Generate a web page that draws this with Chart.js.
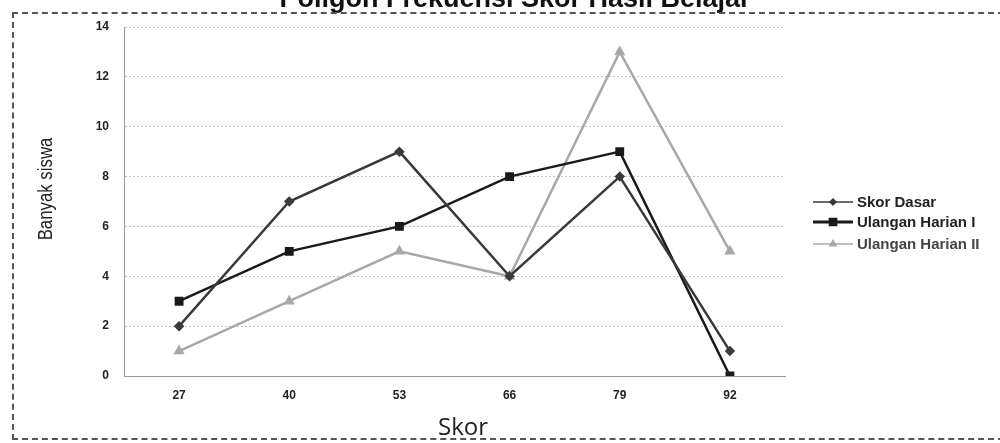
<!DOCTYPE html>
<html>
<head>
<meta charset="utf-8">
<script src="https://cdn.jsdelivr.net/npm/chart.js@4"></script>
<style>
  html, body { margin: 0; padding: 0; background: #fff; overflow: hidden; }
  #wrap { position: relative; width: 1000px; height: 443px; }
  #frame { position: absolute; left: 12px; top: 12px; width: 1000px; height: 424px;
           border-top: 2px dashed #555; border-left: 2px dashed #555; border-bottom: 2px dashed #555; pointer-events: none; }
  canvas { position: absolute; left: 0; top: 0; }
</style>
</head>
<body>
<div id="wrap">
  <canvas id="c" width="1000" height="443"></canvas>
  <div id="frame"></div>
</div>
<script>
const titleText = "Poligon Frekuensi Skor Hasil Belajar";
const xTitle = "Skor";
const yTitle = "Banyak siswa";
const categories = ["27", "40", "53", "66", "79", "92"];
const skorDasar = [2, 7, 9, 4, 8, 1];
const ulangan1 = [3, 5, 6, 8, 9, 0];
const ulangan2 = [1, 3, 5, 4, 13, 5];
const seriesNames = ["Skor Dasar", "Ulangan Harian I", "Ulangan Harian II"];
const yTicks = [0, 2, 4, 6, 8, 10, 12, 14];

const styles = [
  { color: "#3a3a3a", point: "rectRot", radius: 3.5, width: 2.5, legendWidth: 1.5 },
  { color: "#1a1a1a", point: "rect", radius: 4.5, width: 2.5, legendWidth: 3 },
  { color: "#a8a8a8", point: "triangle", radius: 4, width: 2.5, legendWidth: 1.5 }
];
const values = [skorDasar, ulangan1, ulangan2];

const extraPlugin = {
  id: "extra",
  afterDraw(chart) {
    const ctx = chart.ctx;
    ctx.save();
    // title (partially cut at top like the scan)
    ctx.fillStyle = "#111";
    ctx.font = "bold 27px 'Liberation Sans', Arial, sans-serif";
    ctx.textAlign = "center";
    ctx.textBaseline = "alphabetic";
    ctx.fillText(titleText, 515, 7);
    // x axis title
    ctx.fillStyle = "#222";
    ctx.font = "24px 'Open Sans', 'Noto Sans', sans-serif";
    ctx.fillText(xTitle, 463, 435);
    // y axis title (condensed)
    ctx.save();
    ctx.translate(52, 189);
    ctx.rotate(-Math.PI / 2);
    ctx.scale(0.84, 1);
    ctx.font = "20px 'Liberation Sans', Arial, sans-serif";
    ctx.textBaseline = "alphabetic";
    ctx.fillText(yTitle, 0, 0);
    ctx.restore();
    // legend
    const ys = [202, 222, 244];
    ctx.textAlign = "left";
    ctx.textBaseline = "middle";
    for (let i = 0; i < seriesNames.length; i++) {
      const st = styles[i];
      ctx.strokeStyle = st.color;
      ctx.lineWidth = st.legendWidth;
      ctx.beginPath();
      ctx.moveTo(813, ys[i]);
      ctx.lineTo(853, ys[i]);
      ctx.stroke();
      Chart.helpers.drawPoint(ctx, { pointStyle: st.point, radius: st.radius - 0.5, borderWidth: 1, rotation: 0 }, 833, ys[i]);
      ctx.fillStyle = st.color;
      ctx.fill();
      ctx.font = "bold 15px 'Liberation Sans', Arial, sans-serif";
      ctx.fillStyle = i === 2 ? "#444" : "#222";
      ctx.fillText(seriesNames[i], 857, ys[i] + 1);
    }
    ctx.restore();
  }
};

new Chart(document.getElementById("c"), {
  type: "line",
  data: {
    labels: categories,
    datasets: seriesNames.map((n, i) => ({
      label: n,
      data: values[i],
      borderColor: styles[i].color,
      backgroundColor: styles[i].color,
      borderWidth: styles[i].width,
      pointStyle: styles[i].point,
      pointRadius: styles[i].radius,
      pointBorderColor: styles[i].color,
      pointBackgroundColor: styles[i].color,
      tension: 0,
      fill: false
    }))
  },
  options: {
    responsive: false,
    animation: false,
    layout: { padding: { left: 20, right: 215, top: 27, bottom: 5 } },
    plugins: { legend: { display: false }, tooltip: { enabled: false } },
    scales: {
      x: {
        offset: true,
        grid: { display: false, drawTicks: false },
        border: { color: "#999", width: 1, dash: [2, 2] },
        ticks: { color: "#222", padding: 12, font: { size: 12, weight: "bold", family: "'Liberation Sans', Arial" } },
        afterFit(s) { s.height = 62; }
      },
      y: {
        min: 0, max: 14,
        afterBuildTicks(s) { s.ticks = yTicks.map(v => ({ value: v })); },
        grid: { color: "#c4c4c4", lineWidth: 1, drawTicks: false },
        border: { color: "#999", width: 1, dash: [2, 2] },
        ticks: { color: "#222", padding: 15, font: { size: 12, weight: "bold", family: "'Liberation Sans', Arial" } },
        afterFit(s) { s.width = 104; }
      }
    }
  },
  plugins: [extraPlugin]
});
</script>
</body>
</html>
